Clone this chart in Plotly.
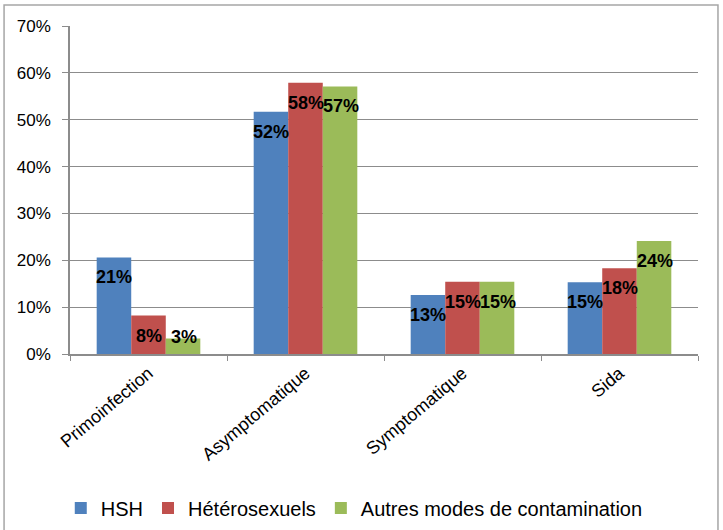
import plotly.graph_objects as go

categories = ["Primoinfection", "Asymptomatique", "Symptomatique", "Sida"]
series_names = ["HSH", "Hétérosexuels", "Autres modes de contamination"]
hsh = [20.6, 51.7, 12.6, 15.3]
hetero = [8.2, 57.9, 15.4, 18.3]
autres = [3.3, 57.1, 15.4, 24.1]
y_ticks = [0, 10, 20, 30, 40, 50, 60, 70]

colors = ["#4F81BD", "#C0504D", "#9BBB59"]
series = [hsh, hetero, autres]

FONT = "Liberation Sans, Arial, sans-serif"
GRID = "#8C8C8C"

fig = go.Figure()
for name, vals, col in zip(series_names, series, colors):
    fig.add_trace(go.Bar(
        x=categories, y=vals, name=name,
        marker=dict(color=col, line=dict(width=0)),
        hoverinfo="skip",
    ))

# data labels (bold, drawn near inner end of each bar)
bar_px = 35
LABEL_MIN = 7.8
for i, vals in enumerate(series):
    for cat, v in zip(categories, vals):
        fig.add_annotation(
            x=cat, y=max(v, LABEL_MIN), xref="x", yref="y",
            text=f"<b>{round(v):d}%</b>", showarrow=False,
            xshift=(i - 1) * bar_px, yshift=-20,
            font=dict(family=FONT, size=18, color="black"),
            xanchor="center", yanchor="middle",
        )

# outer border
fig.add_shape(type="rect", xref="paper", yref="paper",
              x0=-0.105, x1=1.0318, y0=-0.56, y1=1.064,
              line=dict(color="#A6A6A6", width=1.5), fillcolor="rgba(0,0,0,0)", layer="below")

fig.update_layout(
    width=723, height=530,
    margin=dict(l=70, r=25, t=26, b=176, autoexpand=False),
    paper_bgcolor="white", plot_bgcolor="white",
    barmode="group", bargap=0.34, bargroupgap=0,
    font=dict(family=FONT, size=17, color="black"),
    showlegend=True,
    legend=dict(orientation="h", xref="container", x=0.49, xanchor="center",
                y=-0.4695, yanchor="middle",
                font=dict(family=FONT, size=20, color="black"),
                itemwidth=30, tracegroupgap=0),
)
fig.update_xaxes(
    showline=True, linecolor=GRID, linewidth=1.5,
    ticks="outside", tickson="boundaries", ticklen=5, tickcolor=GRID,
    tickangle=-40, tickfont=dict(family=FONT, size=18),
    showgrid=False, automargin=False,
)
fig.update_yaxes(
    range=[0, 70], tickvals=y_ticks, ticktext=[f"{t}%" for t in y_ticks],
    showline=True, linecolor=GRID, linewidth=1.5,
    ticks="outside", ticklen=6, tickcolor=GRID, ticklabelstandoff=8,
    showgrid=True, gridcolor=GRID, gridwidth=1,
    zeroline=False, automargin=False,
    tickfont=dict(family=FONT, size=17),
)

fig.write_html("out.html", config={"displayModeBar": False},
               post_script="document.body.style.margin='0';")
